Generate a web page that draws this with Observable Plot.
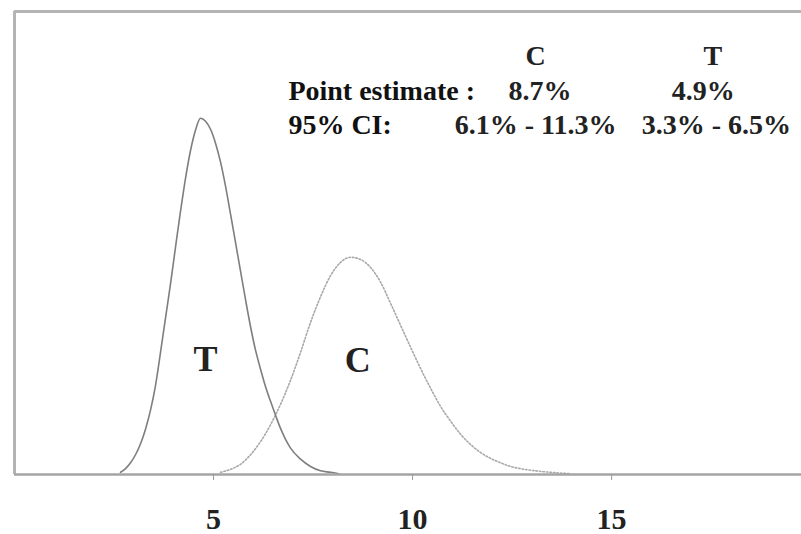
<!DOCTYPE html>
<html>
<head>
<meta charset="utf-8">
<script src="https://cdn.jsdelivr.net/npm/d3@7"></script>
<script src="https://cdn.jsdelivr.net/npm/@observablehq/plot@0.6"></script>
<style>
  html, body { margin: 0; padding: 0; background: #fff; }
  #chart svg { display: block; }
</style>
</head>
<body>
<div id="chart"></div>
<script>
// Posterior density for the T group (solid curve)
const tX = [2.663, 2.789, 2.915, 3.040, 3.166, 3.291, 3.417, 3.543, 3.668, 3.794, 3.920, 4.045, 4.171, 4.296, 4.422, 4.548, 4.673,
            4.799, 4.925, 5.050, 5.176, 5.302, 5.427, 5.553, 5.678, 5.804, 5.930, 6.055, 6.181, 6.307, 6.432, 6.558, 6.683, 6.809, 6.935, 7.186, 7.437, 7.688, 7.940, 8.141];
const tY = [0.003, 0.008, 0.016, 0.027, 0.042, 0.062, 0.088, 0.122, 0.167, 0.214, 0.261, 0.311, 0.360, 0.405, 0.443, 0.471, 0.487,
            0.483, 0.472, 0.453, 0.427, 0.394, 0.356, 0.317, 0.278, 0.239, 0.202, 0.170, 0.144, 0.120, 0.100, 0.081, 0.063, 0.048, 0.036, 0.021, 0.011, 0.005, 0.003, 0.001];

// Posterior density for the C group (dotted curve)
const cX = [5.176, 5.427, 5.678, 5.930, 6.181, 6.432, 6.683, 6.935, 7.186, 7.437, 7.688, 7.940, 8.191, 8.442, 8.693, 8.945, 9.196, 9.447, 9.698, 9.950,
            10.201, 10.452, 10.704, 10.955, 11.206, 11.457, 11.709, 11.960, 12.211, 12.462, 12.714, 13.090, 13.467, 13.970];
const cY = [0.003, 0.007, 0.014, 0.027, 0.045, 0.068, 0.096, 0.129, 0.167, 0.208, 0.243, 0.272, 0.290, 0.297, 0.294, 0.283, 0.263, 0.234, 0.204, 0.174,
            0.145, 0.118, 0.093, 0.073, 0.055, 0.041, 0.030, 0.022, 0.016, 0.011, 0.008, 0.005, 0.003, 0.001];

// Summary table
const groups = ["C", "T"];
const pointEstimates = ["8.7%", "4.9%"];
const intervals = ["6.1% - 11.3%", "3.3% - 6.5%"];
const rowLabels = ["Point estimate :", "95% CI:"];
const xTicks = [5, 10, 15];

const xMax = 19.77, yMax = 0.633;
const serif = "'Liberation Serif', 'DejaVu Serif', serif";

const tCurve = tX.map((x, i) => ({x, y: tY[i]}));
const cCurve = cX.map((x, i) => ({x, y: cY[i]}));

// table anchors in data units
const colX = [13.09, 17.54];
const rowY = [0.5595, 0.5116, 0.465];
const header = groups.map((g, i) => ({x: colX[i], y: rowY[0], text: g}));
const estRow = pointEstimates.map((t, i) => ({x: [13.2, 17.3][i], y: rowY[1], text: t}));
const ciRow = intervals.map((t, i) => ({x: [13.09, 17.63][i], y: rowY[2], text: t}));
const labelRows = rowLabels.map((t, i) => ({x: 6.88, y: rowY[i + 1], text: t}));
const curveLabels = [{x: 4.8, y: 0.142, text: "T"}, {x: 8.62, y: 0.140, text: "C"}];

const chart = Plot.plot({
  width: 801,
  height: 534,
  marginLeft: 14,
  marginRight: 0,
  marginTop: 11,
  marginBottom: 60,
  style: {fontFamily: serif, background: "#fff"},
  x: {domain: [0, xMax]},
  y: {domain: [0, yMax], axis: null},
  marks: [
    Plot.ruleX([0], {stroke: "#b4b4b4", strokeWidth: 3}),
    Plot.ruleY([yMax], {stroke: "#b4b4b4", strokeWidth: 3}),
    Plot.line(cCurve, {x: "x", y: "y", curve: "monotone-x", stroke: "#a8a8a8", strokeWidth: 1.6, strokeDasharray: "1.5,2"}),
    Plot.line(tCurve, {x: "x", y: "y", curve: "monotone-x", stroke: "#7e7e7e", strokeWidth: 1.6}),
    Plot.ruleY([0], {stroke: "#a4a4a4", strokeWidth: 2.5}),
    Plot.axisX({ticks: xTicks, label: null, tickSize: 6, tickPadding: 27, stroke: "#999", fill: "#222", fontSize: 30, fontWeight: "bold", fontFamily: serif}),
    Plot.text(curveLabels, {x: "x", y: "y", text: "text", lineAnchor: "bottom", fontSize: 36, fontWeight: "bold", fill: "#222"}),
    Plot.text(header, {x: "x", y: "y", text: "text", lineAnchor: "bottom", fontSize: 28, fontWeight: "bold", fill: "#222"}),
    Plot.text(estRow, {x: "x", y: "y", text: "text", lineAnchor: "bottom", fontSize: 28, fontWeight: "bold", fill: "#222"}),
    Plot.text(ciRow, {x: "x", y: "y", text: "text", lineAnchor: "bottom", fontSize: 28, fontWeight: "bold", fill: "#222"}),
    Plot.text(labelRows, {x: "x", y: "y", text: "text", textAnchor: "start", lineAnchor: "bottom", fontSize: 28, fontWeight: "bold", fill: "#111"})
  ]
});

document.getElementById("chart").append(chart);
</script>
</body>
</html>
